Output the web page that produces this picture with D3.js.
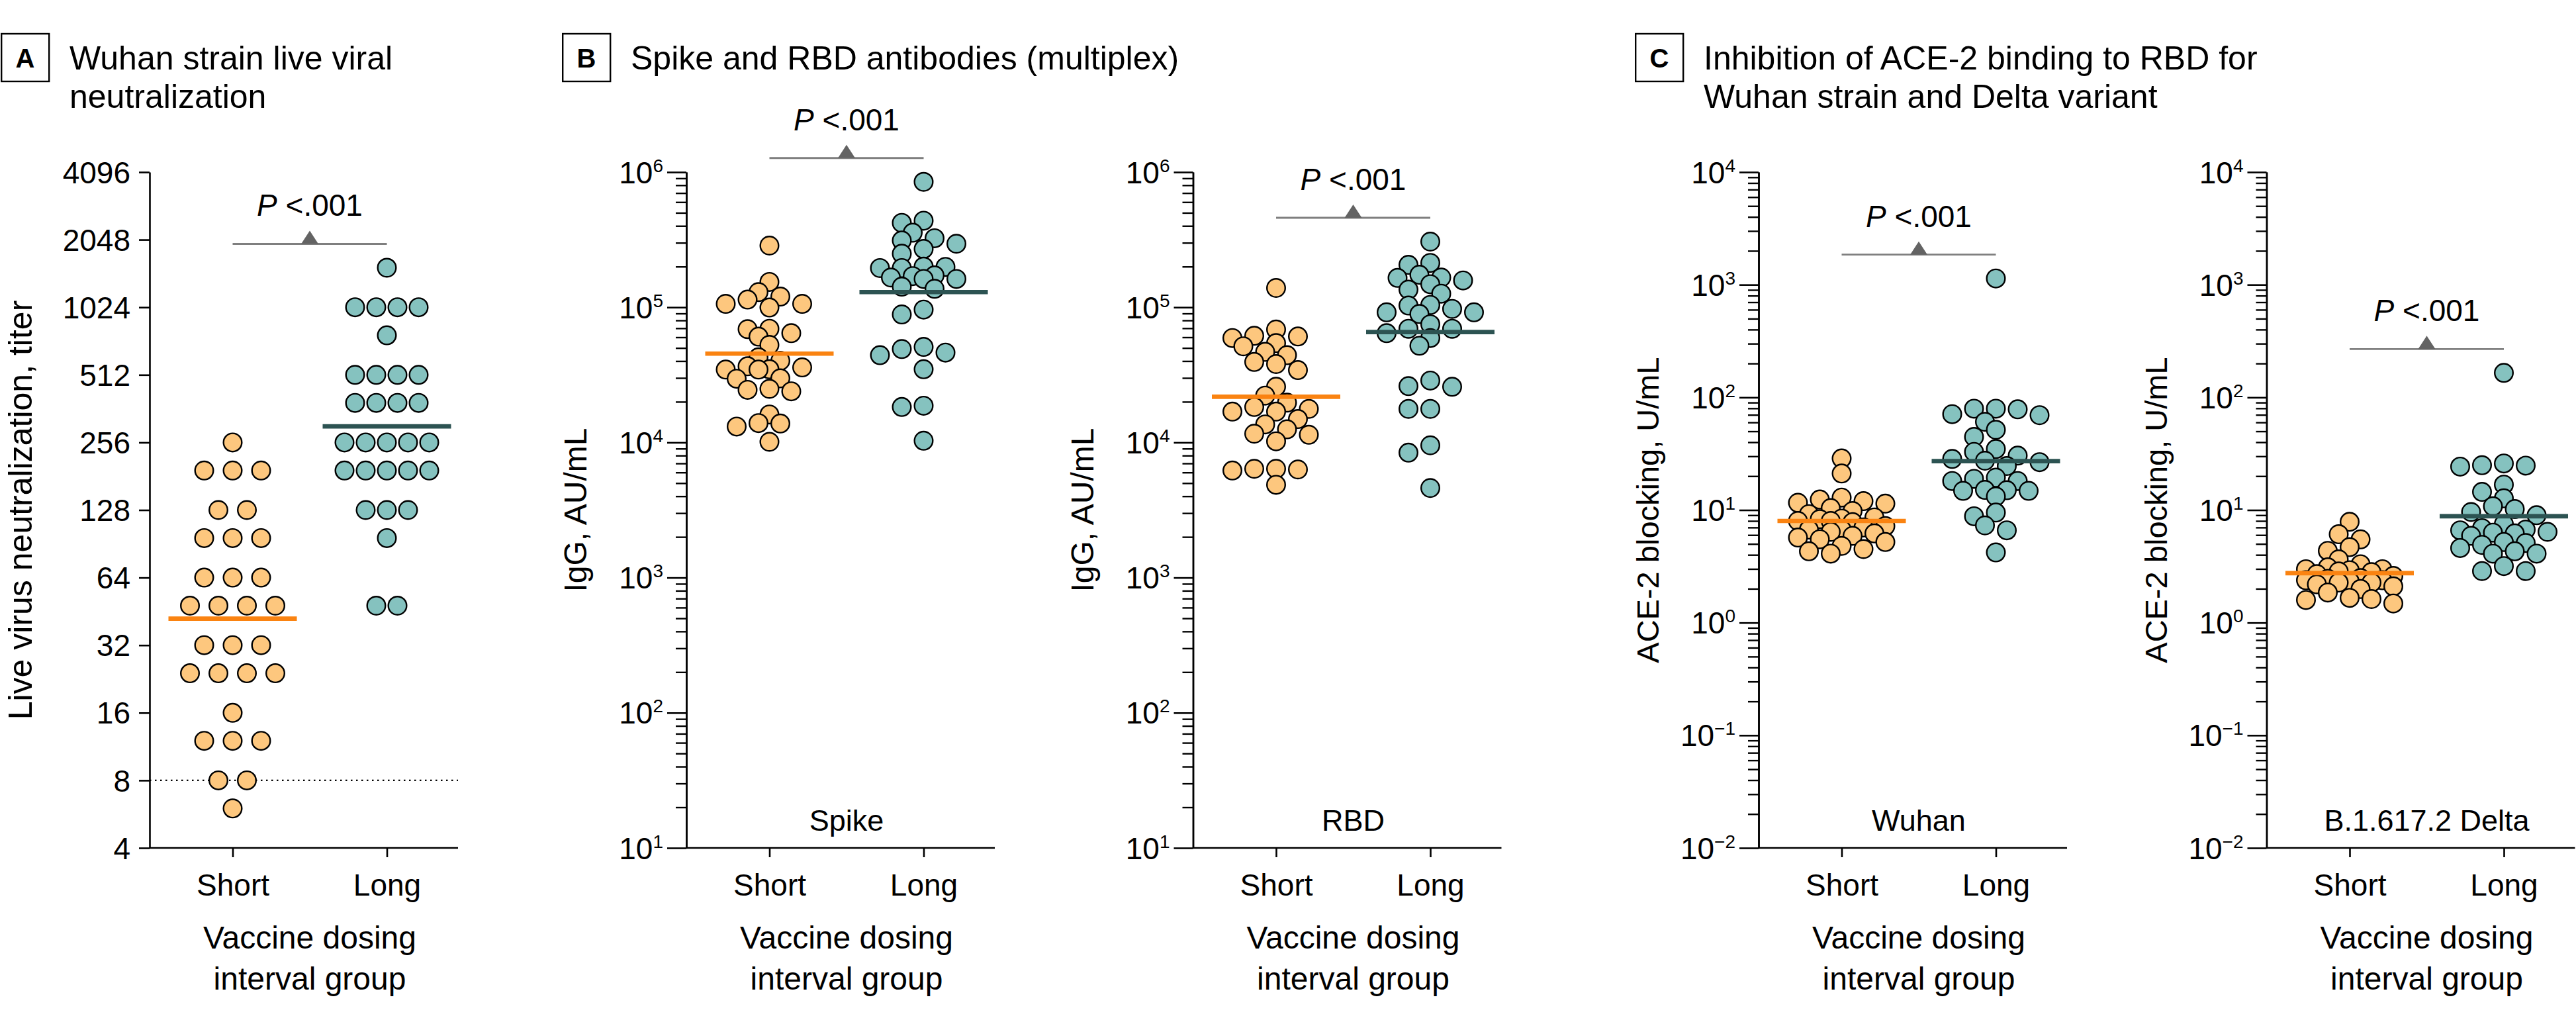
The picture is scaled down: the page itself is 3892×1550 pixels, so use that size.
<!DOCTYPE html>
<html><head><meta charset="utf-8">
<script src="https://cdn.jsdelivr.net/npm/d3@7"></script>
<style>
body{margin:0;background:#fff}
svg text{font-family:"Liberation Sans",Arial,sans-serif;fill:#000}
</style></head>
<body><svg id="chart" width="3892" height="1550"></svg>
<script>
// ---------------- DATA ----------------
const groups = ["Short", "Long"];
const xTitleLines = ["Vaccine dosing", "interval group"];
const pValueText = "<.001";

// Panel A: live virus neutralization titers
const liveShort = [256,192,192,192,128,128,96,96,96,64,64,64,48,48,48,48,32,32,32,24,24,24,24,16,12,12,12,8,8,6];
const liveLong  = [1536,1024,1024,1024,1024,768,512,512,512,512,384,384,384,384,256,256,256,256,256,192,192,192,192,192,128,128,128,96,48,48];
const liveGeoMean = [42, 302];
const titerTicks = [4,8,16,32,64,128,256,512,1024,2048,4096];
const titerLimit = 8;

// Panel B: IgG (AU/mL)
const spikeShort = [286000,154000,120000,129500,106000,114000,106000,99600,69300,68900,60600,64300,52700,42600,40200,36600,34800,34600,35900,34600,29800,29600,24500,24900,23900,16100,13800,13100,13900,10100];
const spikeLong  = [847000,421000,437000,356000,324000,312000,295000,249000,270000,195000,195000,199000,200000,170000,162000,166000,162000,172000,137000,142000,96200,88500,50900,44200,46200,49100,34800,18700,18300,10300];
const spikeGeoMean = [45400, 129500];
const rbdShort = [139000,68500,60800,54300,59200,61500,51400,46800,44200,39400,38000,34300,25800,22200,19700,17700,16900,16900,18300,14900,13600,12500,11400,11600,10200,6200,6380,6310,6380,4860];
const rbdLong  = [306000,206000,213000,174000,165000,166000,158000,148000,135000,126000,104000,97200,103000,91800,89200,91800,69300,74800,64300,69300,59200,51900,26100,25800,28700,17700,17700,9520,8400,4600];
const rbdGeoMean = [21800, 65600];
const iggDecades = [1,2,3,4,5,6];

// Panel C: ACE-2 blocking (U/mL)
const aceWuhanShort = [28.7,21.1,12.9,12.4,12.0,11.6,11.4,10.4,9.8,9.2,8.6,8.4,8.3,8.0,8.0,7.8,7.2,7.0,6.7,6.7,6.4,6.2,5.9,5.7,5.5,5.2,4.8,4.5,4.3,4.1];
const aceWuhanLong  = [1137,78.4,79.4,60.7,71.0,79.4,69.5,51.6,44.6,32.8,34.8,28.4,30.4,27.4,26.6,24.6,19.4,18.9,18.1,18.1,14.8,15.1,13.2,14.8,15.0,8.8,9.5,7.3,6.6,4.2];
const aceWuhanGeoMean = [8.0, 27.2];
const aceDeltaShort = [7.86,6.1,5.49,4.68,4.34,3.65,3.3,3.1,2.98,2.98,2.92,2.85,2.81,2.7,2.6,2.49,2.45,2.38,2.38,2.33,2.27,2.27,2.19,2.1,1.99,1.85,1.66,1.62,1.59,1.48];
const aceDeltaLong  = [165,25.0,24.8,25.9,24.3,14.5,16.8,12.7,10.8,10.2,9.6,9.0,6.7,6.9,6.6,6.4,6.2,5.9,6.3,5.2,5.1,4.9,4.6,4.3,4.1,4.1,2.87,3.18,2.87,7.5];
const aceDeltaGeoMean = [2.75, 8.8];
const aceDecades = [-2,-1,0,1,2,3,4];

// Panel headings
const panelLetters = ["A","B","C"];
const panelTitles = [["Wuhan strain live viral","neutralization"],["Spike and RBD antibodies (multiplex)"],["Inhibition of ACE-2 binding to RBD for","Wuhan strain and Delta variant"]];

// ---------------- STYLE / LAYOUT ----------------
const FONT = '"Liberation Sans", Arial, sans-serif';
const TOP = 260, BOTTOM = 1281;
const fillColor = {Short:"#FDC77E", Long:"#85C2BF"};
const meanColor = {Short:"#FA8311", Long:"#2C5352"};
const svg = d3.select("#chart");

const headerX = [1, 849, 2470];
panelLetters.forEach((L,i)=>{
  const g = svg.append("g");
  g.append("rect").attr("x",headerX[i]+1.2).attr("y",51).attr("width",72).attr("height",72)
    .attr("fill","none").attr("stroke","#000").attr("stroke-width",2.4);
  g.append("text").attr("x",headerX[i]+37).attr("y",102).attr("text-anchor","middle")
    .attr("font-size",40).attr("font-weight","bold").text(L);
  panelTitles[i].forEach((t,j)=>{
    g.append("text").attr("x",headerX[i]+104).attr("y",105+58*j).attr("font-size",50).text(t);
  });
});

const subplots = [
  {axisX:226, base:2, domain:[4,4096], short:liveShort, long:liveLong, gm:liveGeoMean,
   yTitle:"Live virus neutralization, titer", yTitleSize:50, yTitleOff:178, sub:null, limit:titerLimit, rows:[43,32]},
  {axisX:1037, base:10, decades:iggDecades, short:spikeShort, long:spikeLong, gm:spikeGeoMean,
   yTitle:"IgG, AU/mL", yTitleSize:48, yTitleOff:151, sub:"Spike"},
  {axisX:1802.5, base:10, decades:iggDecades, short:rbdShort, long:rbdLong, gm:rbdGeoMean,
   yTitle:"IgG, AU/mL", yTitleSize:48, yTitleOff:151, sub:"RBD"},
  {axisX:2657, base:10, decades:aceDecades, short:aceWuhanShort, long:aceWuhanLong, gm:aceWuhanGeoMean,
   yTitle:"ACE-2 blocking, U/mL", yTitleSize:47, yTitleOff:151, sub:"Wuhan"},
  {axisX:3424.5, base:10, decades:aceDecades, short:aceDeltaShort, long:aceDeltaLong, gm:aceDeltaGeoMean,
   yTitle:"ACE-2 blocking, U/mL", yTitleSize:47, yTitleOff:151, sub:"B.1.617.2 Delta"}
];

// compact beeswarm: discrete column offsets, limited width, overlap allowed when crowded
function swarm(values, y, cx, step, minDist, maxSteps){
  const pts = values.map(v=>({v, y:y(v)})).sort((a,b)=>a.y-b.y);
  const cand = [0];
  for (let m=1;m<=maxSteps;m++){ cand.push(-m, m); }
  const placed = [];
  for (const p of pts){
    let best = null, bestD = -1;
    for (const m of cand){
      const x = cx + m*step;
      const d = placed.length ? d3.min(placed, q => Math.hypot(q.x-x, q.y-p.y)) : Infinity;
      if (d >= minDist){ best = x; break; }
      if (d > bestD + 1.5){ bestD = d; best = x; }
    }
    p.x = best;
    placed.push(p);
  }
  return placed;
}
function rowLayout(values, y, cx, spacing){
  const byVal = d3.group(values, v=>v);
  const out = [];
  for (const [v, arr] of byVal){
    arr.forEach((_,i)=> out.push({v, y:y(v), x: cx + (i-(arr.length-1)/2)*spacing}));
  }
  return out;
}

subplots.forEach(sp=>{
  const g = svg.append("g");
  const x = d3.scalePoint().domain(groups).range([sp.axisX+125.5, sp.axisX+358.5]);
  const xEnd = sp.axisX + 466;
  let y;
  if (sp.base===2){
    y = d3.scaleLog().base(2).domain(sp.domain).range([BOTTOM, TOP]);
  } else {
    y = d3.scaleLog().domain([10**d3.min(sp.decades), 10**d3.max(sp.decades)]).range([BOTTOM, TOP]);
  }

  // y axis
  if (sp.base===2){
    const ax = g.append("g").attr("transform",`translate(${sp.axisX},0)`)
      .call(d3.axisLeft(y).tickValues(titerTicks).tickSize(16).tickSizeOuter(0).tickFormat(d3.format("d")));
    ax.selectAll("text").attr("font-size",46).attr("x",-29).attr("dy","0.35em").style("font-family",FONT);
    ax.selectAll("line,path").attr("stroke","#000").attr("stroke-width",2.6);
  } else {
    const minor = [];
    sp.decades.slice(0,-1).forEach(d=>{ for(let m=2;m<=9;m++) minor.push(m*10**d); });
    const axMin = g.append("g").attr("transform",`translate(${sp.axisX},0)`)
      .call(d3.axisLeft(y).tickValues(minor).tickSize(16).tickSizeOuter(0).tickFormat(""));
    axMin.selectAll("line,path").attr("stroke","#000").attr("stroke-width",2.4);
    const majors = sp.decades.map(d=>10**d);
    const axMaj = g.append("g").attr("transform",`translate(${sp.axisX},0)`)
      .call(d3.axisLeft(y).tickValues(majors).tickSize(29).tickSizeOuter(0).tickFormat(""));
    axMaj.selectAll("line,path").attr("stroke","#000").attr("stroke-width",2.6);
    axMaj.selectAll(".tick").each(function(d){
      const e = Math.round(Math.log10(d));
      const t = d3.select(this).select("text").attr("x",-35).attr("dy",null).attr("y",16)
        .attr("text-anchor","end").attr("font-size",46).style("font-family",FONT);
      t.text(null);
      t.append("tspan").text("10");
      t.append("tspan").attr("font-size",28).attr("dy",-17).text(e<0 ? "\u2212"+(-e) : String(e));
    });
  }

  // x axis
  g.append("line").attr("x1",sp.axisX).attr("x2",xEnd).attr("y1",BOTTOM).attr("y2",BOTTOM)
    .attr("stroke","#000").attr("stroke-width",2.6);
  const xa = g.append("g").attr("transform",`translate(0,${BOTTOM})`)
    .call(d3.axisBottom(x).tickSize(14).tickSizeOuter(0));
  xa.select(".domain").remove();
  xa.selectAll("line").attr("stroke","#000").attr("stroke-width",2.6);
  xa.selectAll("text").attr("font-size",46).attr("y",72).attr("dy",null).style("font-family",FONT);

  const mid = (x("Short")+x("Long"))/2;
  xTitleLines.forEach((t,j)=> g.append("text").attr("x",mid).attr("y",1433+62*j)
    .attr("text-anchor","middle").attr("font-size",48).text(t));

  // y title
  g.append("text").attr("transform",`translate(${sp.axisX-sp.yTitleOff},${(TOP+BOTTOM)/2}) rotate(-90)`)
    .attr("text-anchor","middle").attr("font-size",sp.yTitleSize).text(sp.yTitle);

  if (sp.sub) g.append("text").attr("x",mid).attr("y",1255).attr("text-anchor","middle")
    .attr("font-size",45).text(sp.sub);

  if (sp.limit) g.append("line").attr("x1",sp.axisX).attr("x2",xEnd).attr("y1",y(sp.limit)).attr("y2",y(sp.limit))
    .attr("stroke","#000").attr("stroke-width",2.4).attr("stroke-dasharray","2.5,5.5");

  // points
  [["Short",sp.short],["Long",sp.long]].forEach(([grp,vals],gi)=>{
    const pts = sp.rows ? rowLayout(vals, y, x(grp), sp.rows[gi]) : swarm(vals, y, x(grp), 16.5, 20, 4);
    g.append("g").selectAll("circle").data(pts).join("circle")
      .attr("cx",d=>d.x).attr("cy",d=>d.y).attr("r",13.8)
      .attr("fill",fillColor[grp]).attr("stroke","#000").attr("stroke-width",2.4);
  });
  // geometric mean lines
  groups.forEach((grp,gi)=>{
    g.append("line").attr("x1",x(grp)-97).attr("x2",x(grp)+97)
      .attr("y1",y(sp.gm[gi])).attr("y2",y(sp.gm[gi]))
      .attr("stroke",meanColor[grp]).attr("stroke-width",6.7);
  });

  // significance bracket
  const by = y(d3.max(sp.short.concat(sp.long))) - 36;
  g.append("line").attr("x1",x("Short")).attr("x2",x("Long")).attr("y1",by).attr("y2",by)
    .attr("stroke","#7f7f7f").attr("stroke-width",2.8);
  g.append("path").attr("d",`M${mid-13},${by}L${mid},${by-20}L${mid+13},${by}Z`).attr("fill","#636363");
  const pt = g.append("text").attr("x",mid).attr("y",by-42).attr("text-anchor","middle").attr("font-size",46);
  pt.append("tspan").attr("font-style","italic").text("P");
  pt.append("tspan").text(" "+pValueText);
});
</script></body></html>
